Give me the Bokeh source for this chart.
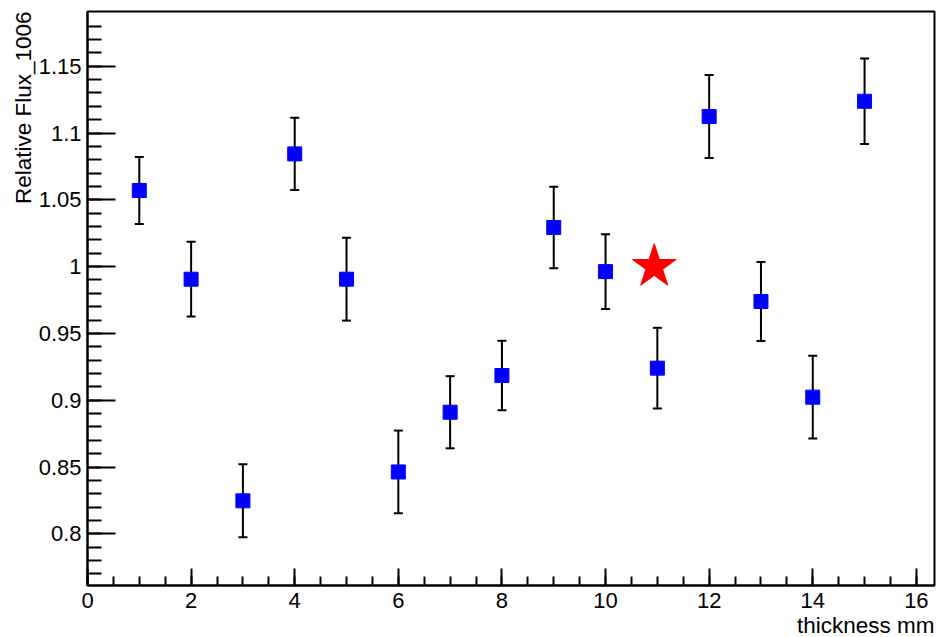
from bokeh.embed import file_html
from bokeh.models import ColumnDataSource, FixedTicker, Range1d, Title
from bokeh.plotting import figure
from bokeh.resources import INLINE

# Measured relative flux versus absorber thickness
thickness = [1, 2, 3, 4, 5, 6, 7, 8, 9, 10, 11, 12, 13, 14, 15]
flux = [1.057, 0.9906, 0.8247, 1.0844, 0.9906, 0.8463, 0.891, 0.9185,
        1.0293, 0.9963, 0.924, 1.1124, 0.9739, 0.9023, 1.1238]
flux_err = [0.025, 0.028, 0.0273, 0.027, 0.031, 0.031, 0.027, 0.026,
            0.0305, 0.028, 0.0302, 0.031, 0.0296, 0.031, 0.032]

# Reference point marked with a star
ref_thickness = [10.94]
ref_flux = [1.0]

x_major = [0, 2, 4, 6, 8, 10, 12, 14, 16]
x_minor = [i * 0.5 for i in range(0, 33)]
y_major = [0.8, 0.85, 0.9, 0.95, 1.0, 1.05, 1.1, 1.15]
y_minor = [round(0.77 + i * 0.01, 2) for i in range(0, 42)]
y_tick_labels = {0.8: "0.8", 0.85: "0.85", 0.9: "0.9", 0.95: "0.95",
                 1.0: "1", 1.05: "1.05", 1.1: "1.1", 1.15: "1.15"}

FONT = "Liberation Sans"

src = ColumnDataSource(dict(
    x=thickness,
    y=flux,
    lo=[f - e for f, e in zip(flux, flux_err)],
    hi=[f + e for f, e in zip(flux, flux_err)],
))

p = figure(
    width=941, height=637,
    x_range=Range1d(0.0, 16.35), y_range=Range1d(0.7613, 1.191),
    output_backend="svg", toolbar_location=None, tools="",
    min_border_left=87, min_border_right=7, min_border_top=11, min_border_bottom=52,
)
p.background_fill_color = "white"
p.border_fill_color = "white"
p.outline_line_color = "black"
p.outline_line_width = 2
p.grid.visible = False

# x axis
xa = p.xaxis[0]
xa.ticker = FixedTicker(ticks=x_major, minor_ticks=x_minor)
xa.major_tick_in = 17
xa.major_tick_out = 0
xa.minor_tick_in = 9
xa.minor_tick_out = 0
xa.major_tick_line_width = 2
xa.minor_tick_line_width = 2
xa.axis_line_width = 2
xa.major_label_standoff = 7
xa.major_label_text_font = FONT
xa.major_label_text_font_size = "22px"
xa.major_label_text_color = "black"

# y axis
ya = p.yaxis[0]
ya.ticker = FixedTicker(ticks=y_major, minor_ticks=y_minor)
ya.major_label_overrides = y_tick_labels
ya.major_tick_in = 28
ya.major_tick_out = 0
ya.minor_tick_in = 14
ya.minor_tick_out = 0
ya.major_tick_line_width = 2
ya.minor_tick_line_width = 2
ya.axis_line_width = 2
ya.major_label_standoff = 6
ya.major_label_text_font = FONT
ya.major_label_text_font_size = "22px"
ya.major_label_text_color = "black"

# error bars with short caps
p.segment(x0="x", y0="lo", x1="x", y1="hi", source=src,
          line_color="black", line_width=2)
p.scatter(x="x", y="hi", source=src, marker="dash", size=9,
          line_color="black", line_width=2)
p.scatter(x="x", y="lo", source=src, marker="dash", size=9,
          line_color="black", line_width=2)

# data points
p.scatter(x="x", y="y", source=src, marker="square", size=14,
          fill_color="#0000ff", line_color="#0000ff")

# reference star
p.scatter(x=ref_thickness, y=ref_flux, marker="star", size=46,
          fill_color="#ff0000", line_color="#ff0000")

# axis titles, aligned to the far ends of the axes
p.add_layout(Title(
    text="Relative Flux_1006", align="right",
    text_font=FONT, text_font_size="22.5px", text_font_style="normal",
    text_color="black", standoff=0, offset=0,
), "left")
p.add_layout(Title(
    text="thickness mm", align="right",
    text_font=FONT, text_font_size="22.5px", text_font_style="normal",
    text_color="black", standoff=0, offset=0,
), "below")

open("out.html", "w").write(file_html(p, INLINE))
